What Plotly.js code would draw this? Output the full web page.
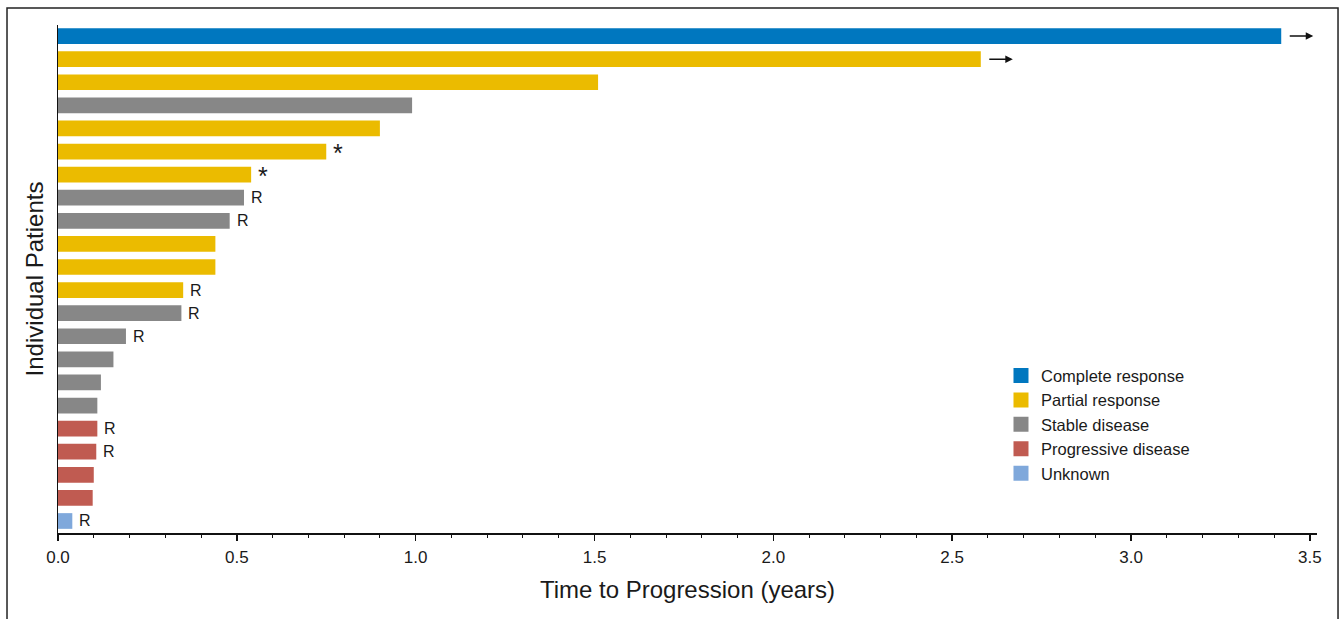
<!DOCTYPE html>
<html>
<head>
<meta charset="utf-8">
<script src="https://cdn.plot.ly/plotly-3.0.1.min.js"></script>
<style>
  html, body { margin: 0; padding: 0; background: #fff; }
  #chart { width: 1344px; height: 619px; }
</style>
</head>
<body>
<div id="chart"></div>
<script>
// ---- data ----
const patients = ['P1','P2','P3','P4','P5','P6','P7','P8','P9','P10','P11',
                  'P12','P13','P14','P15','P16','P17','P18','P19','P20','P21','P22'];
const timeToProgression = [3.42, 2.58, 1.51, 0.99, 0.90, 0.75, 0.54, 0.52, 0.48, 0.44, 0.44,
                           0.35, 0.345, 0.19, 0.155, 0.12, 0.11, 0.11, 0.107, 0.10, 0.097, 0.04];
const response = ['Complete response','Partial response','Partial response','Stable disease',
                  'Partial response','Partial response','Partial response','Stable disease',
                  'Stable disease','Partial response','Partial response','Partial response',
                  'Stable disease','Stable disease','Stable disease','Stable disease','Stable disease',
                  'Progressive disease','Progressive disease','Progressive disease','Progressive disease',
                  'Unknown'];
const flags = ['arrow','arrow','','','','*','*','R','R','','','R','R','R','','','','R','R','','','R'];
const categories = ['Complete response','Partial response','Stable disease','Progressive disease','Unknown'];
const colors = ['#0077bf','#ebbb00','#878787','#c05b51','#7fa8db'];

// ---- traces ----
const traces = [];
categories.forEach((cat, k) => {
  const xs = [], ys = [];
  patients.forEach((p, i) => { if (response[i] === cat) { xs.push(timeToProgression[i]); ys.push(p); } });
  traces.push({
    type: 'bar', orientation: 'h', name: cat, x: xs, y: ys,
    width: 0.68, marker: { color: colors[k], line: { width: 0 } },
    legendgroup: cat, showlegend: false, hoverinfo: 'x+name'
  });
});
// legend entries (square swatches)
categories.forEach((cat, k) => {
  traces.push({
    type: 'scatter', mode: 'markers', name: cat, x: [null], y: [null],
    marker: { symbol: 'square', size: 15, color: colors[k], line: { width: 0 } },
    legendgroup: cat, showlegend: true, hoverinfo: 'skip'
  });
});

// ---- annotations for flags ----
const annotations = [];
patients.forEach((p, i) => {
  const f = flags[i];
  if (!f) return;
  if (f === 'arrow') {
    annotations.push({
      x: timeToProgression[i], y: p, xref: 'x', yref: 'y',
      text: '', showarrow: true, ax: -25, ay: 0, xshift: 32,
      arrowhead: 2, arrowsize: 1, arrowwidth: 1.5, arrowcolor: '#111'
    });
  } else {
    annotations.push({
      x: timeToProgression[i], y: p, xref: 'x', yref: 'y',
      text: f, showarrow: false, xanchor: 'left', xshift: 5,
      yshift: f === '*' ? -1 : 0,
      font: { family: 'Liberation Sans, Arial, sans-serif', size: f === '*' ? 25 : 16, color: '#1a1a1a' }
    });
  }
});

const layout = {
  width: 1344, height: 619,
  margin: { l: 58, r: 27, t: 25, b: 86 },
  paper_bgcolor: '#ffffff', plot_bgcolor: '#ffffff',
  barmode: 'overlay',
  showlegend: true,
  font: { family: 'Liberation Sans, Arial, sans-serif', color: '#1a1a1a' },
  xaxis: {
    range: [0, 3.52], tick0: 0, dtick: 0.5, tickformat: '.1f',
    showline: true, linecolor: '#111', linewidth: 1.5,
    ticks: 'outside', ticklen: 6, tickwidth: 1.5, tickcolor: '#111',
    minor: { dtick: 0.1, ticks: 'outside', ticklen: 3, tickwidth: 1, tickcolor: '#111' },
    showgrid: false, zeroline: false,
    tickfont: { size: 17, color: '#1a1a1a' }, ticklabelstandoff: 2,
    title: { text: 'Time to Progression (years)', font: { size: 24, color: '#1a1a1a' }, standoff: 15 }
  },
  yaxis: {
    type: 'category', categoryorder: 'array', categoryarray: patients,
    range: [21.52, -0.48],
    showline: true, linecolor: '#111', linewidth: 1.5,
    showticklabels: false, ticks: '', showgrid: false, zeroline: false,
    title: { text: 'Individual Patients', font: { size: 24, color: '#1a1a1a' }, standoff: 6 }
  },
  legend: {
    x: 0.749, y: 0.344, xanchor: 'left', yanchor: 'top',
    bgcolor: 'rgba(0,0,0,0)', borderwidth: 0,
    font: { size: 16.5, color: '#1a1a1a' },
    traceorder: 'normal', tracegroupgap: 5, itemsizing: 'trace'
  },
  annotations: annotations,
  shapes: [{
    type: 'rect', xref: 'paper', yref: 'paper',
    x0: -0.0405, x1: 1.0167, y0: -0.2, y1: 1.0335,
    line: { color: '#222', width: 1.5 }, fillcolor: 'rgba(0,0,0,0)', layer: 'below'
  }]
};

Plotly.newPlot('chart', traces, layout, { displayModeBar: false, staticPlot: true });
</script>
</body>
</html>
